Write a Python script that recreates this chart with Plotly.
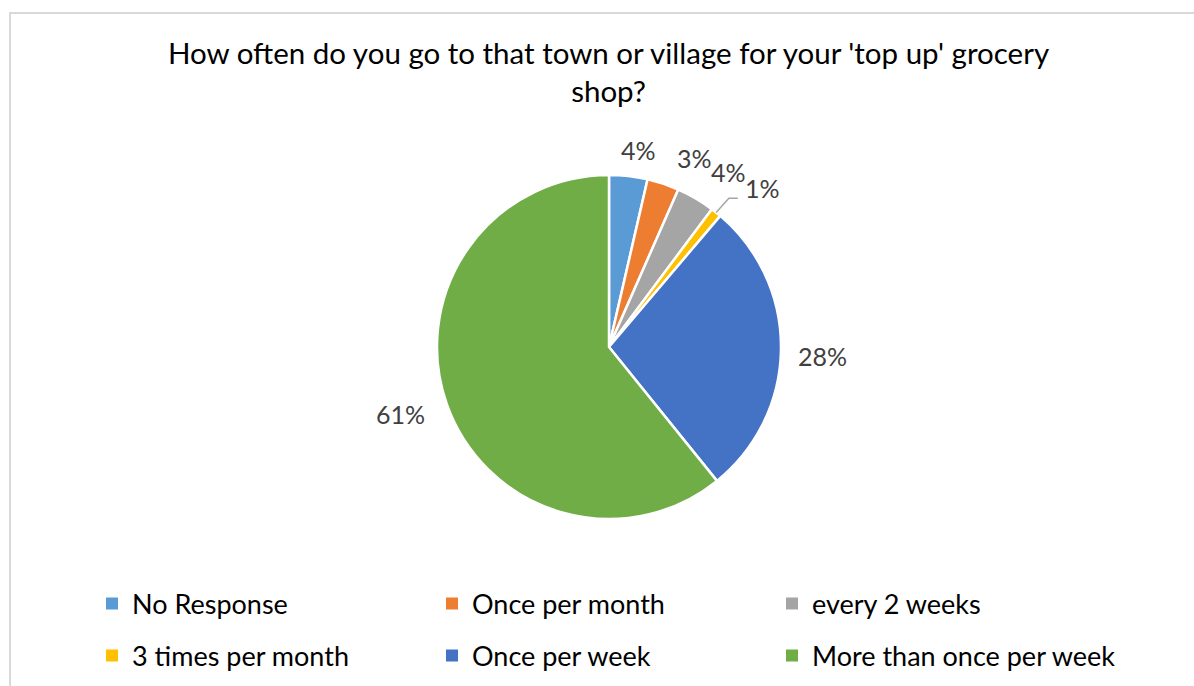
import math
import plotly.graph_objects as go

# Survey answers (share of respondents, %)
categories = ["No Response", "Once per month", "every 2 weeks",
              "3 times per month", "Once per week", "More than once per week"]
shares = [3.6, 3.0, 3.6, 1.0, 28.0, 60.8]
colors = ["#5B9BD5", "#ED7D31", "#A5A5A5", "#FFC000", "#4472C4", "#70AD47"]

title_text = "How often do you go to that town or village for your 'top up' grocery<br>shop?"

W, H = 1194, 686
FONT = "Lato"

# pie geometry in pixels
cx, cy, r = 609, 347, 172

# per-label placement: (angle nudge in degrees, distance from centre in px)
label_place = [(2.0, 199), (6.0, 207), (4.0, 212), (5.6, 221), (1.7, 214), (1.6, 219)]

# legend grid (pixels): column left edges and row centres
legend_cols = [92, 432, 772]
legend_rows = [604, 656]


def px_to_paper(x, y):
    return x / W, 1 - y / H


fig = go.Figure()
fig.add_trace(go.Pie(
    labels=categories,
    values=shares,
    sort=False,
    direction="clockwise",
    rotation=0,
    marker=dict(colors=colors, line=dict(color="white", width=2.5)),
    textinfo="none",
    domain=dict(x=[(cx - r) / W, (cx + r) / W], y=[1 - (cy + r) / H, 1 - (cy - r) / H]),
    showlegend=False,
))

# legend entries laid out as a 3 x 2 grid, one legend per cell
legend_layout = {}
for i, (name, col) in enumerate(zip(categories, colors)):
    key = "legend" if i == 0 else f"legend{i + 1}"
    fig.add_trace(go.Scatter(
        x=[None], y=[None], mode="markers", name=name,
        marker=dict(symbol="square", size=12, color=col),
        legend=key, hoverinfo="skip",
    ))
    lx = legend_cols[i % 3]
    ly = legend_rows[i // 3]
    legend_layout[key] = dict(
        x=lx / W, y=1 - ly / H, xanchor="left", yanchor="middle",
        orientation="h",
        font=dict(family=FONT, size=27, color="#000000"),
        bgcolor="rgba(0,0,0,0)",
    )

# percentage labels placed around the pie from each slice's mid-angle
total = sum(shares)
annotations = []
shapes = []
cum = 0.0
for i, v in enumerate(shares):
    mid = (cum + v / 2) / total * 360.0
    cum += v
    dth, dist = label_place[i]
    th = math.radians(mid + dth)
    lx = cx + dist * math.sin(th)
    ly = cy - dist * math.cos(th)
    px, py = px_to_paper(lx, ly)
    pct = round(v / total * 100)
    annotations.append(dict(
        x=px, y=py, xref="paper", yref="paper", text=f"{pct}%",
        showarrow=False, xanchor="center", yanchor="middle",
        font=dict(family=FONT, size=25, color="#404040"),
    ))
    if i == 3:
        # leader line from the thin slice to its label
        m = math.radians(mid)
        sx, sy = cx + r * math.sin(m), cy - r * math.cos(m)
        ex, ey = lx - 34, ly + 10
        hx = lx - 25
        p = [px_to_paper(sx, sy), px_to_paper(ex, ey), px_to_paper(hx, ey)]
        shapes.append(dict(
            type="path", xref="paper", yref="paper",
            path=f"M{p[0][0]},{p[0][1]} L{p[1][0]},{p[1][1]} L{p[2][0]},{p[2][1]}",
            line=dict(color="#A6A6A6", width=1.5),
        ))

annotations.append(dict(
    x=608 / W, y=1 - 33 / H, xref="paper", yref="paper", text=title_text,
    showarrow=False, xanchor="center", yanchor="top",
    font=dict(family=FONT, size=29.5, color="#000000"),
))

# chart area border
shapes.append(dict(
    type="rect", xref="paper", yref="paper",
    x0=10 / W, y0=-0.02, x1=1.02, y1=1 - 13 / H,
    line=dict(color="#D9D9D9", width=2), fillcolor="rgba(0,0,0,0)",
))

fig.update_layout(
    width=W, height=H,
    margin=dict(l=0, r=0, t=0, b=0, autoexpand=False),
    paper_bgcolor="white",
    plot_bgcolor="white",
    xaxis=dict(visible=False),
    yaxis=dict(visible=False),
    annotations=annotations,
    shapes=shapes,
    **legend_layout,
)

fig.write_html("out.html")
